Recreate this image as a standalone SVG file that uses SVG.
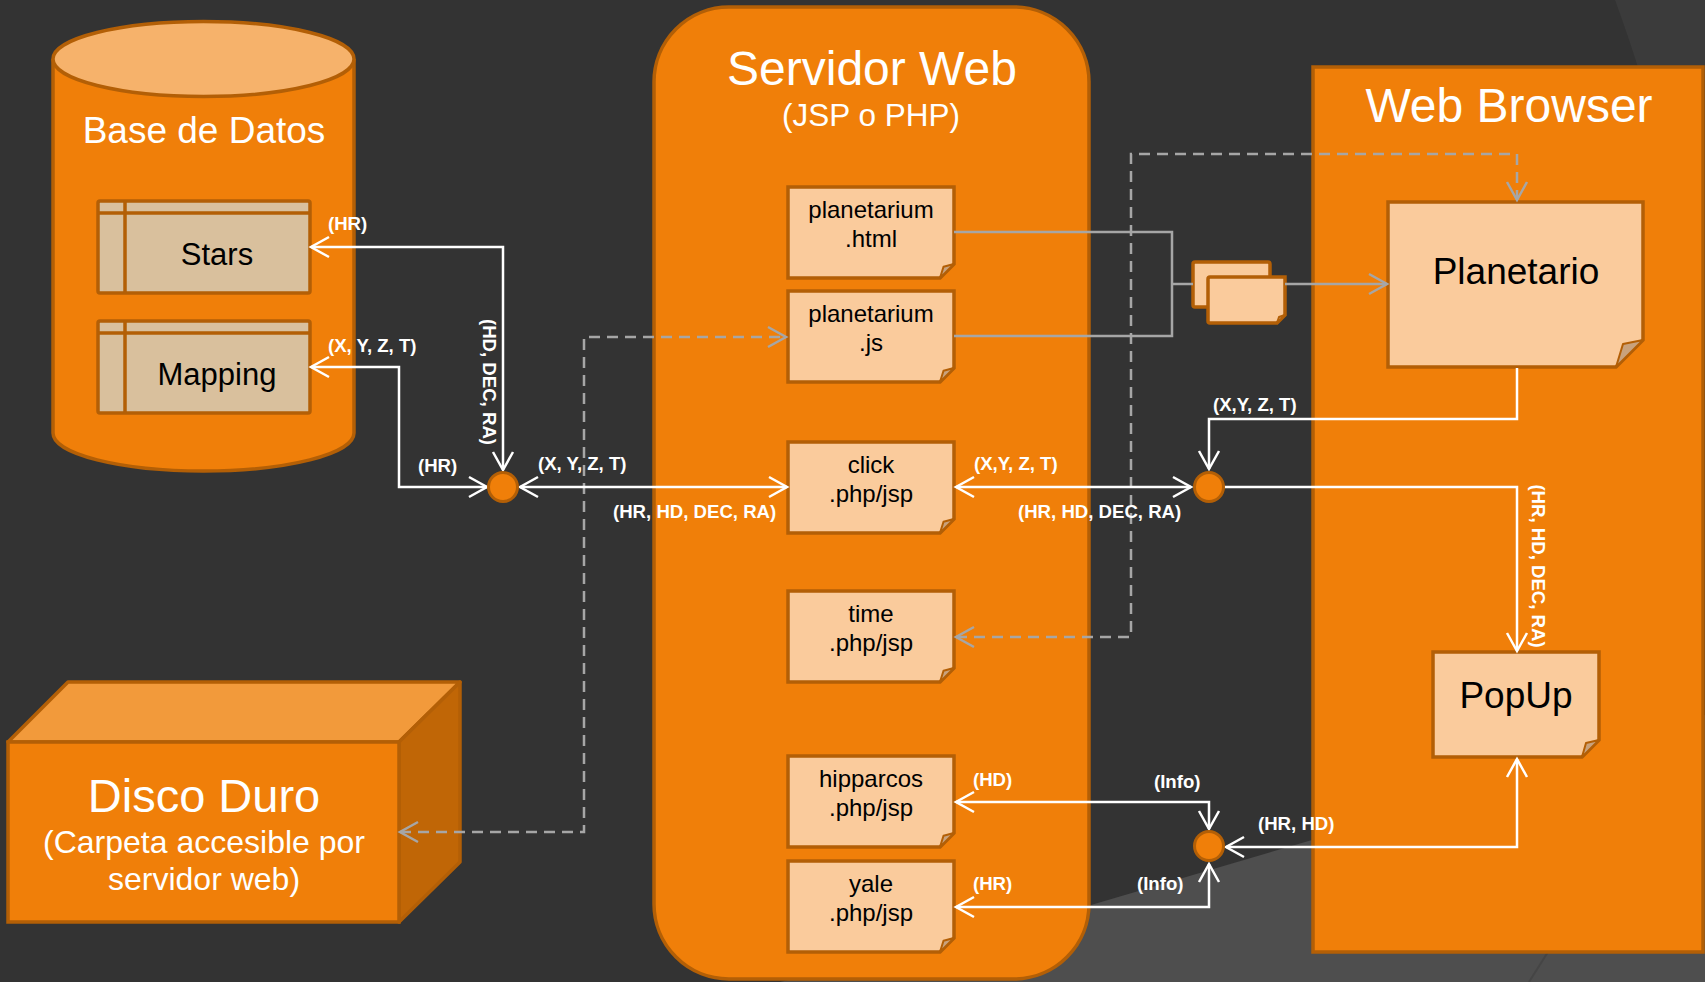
<svg xmlns="http://www.w3.org/2000/svg" width="1705" height="982" viewBox="0 0 1705 982">
  <defs>
    <style>
      .orange{fill:#F07F09;stroke:#B35F06;stroke-width:3.5}
      .note{fill:#FACB9C;stroke:#B35F06;stroke-width:3.5;stroke-linejoin:miter}
      .fold{fill:#C9A27C;stroke:#B35F06;stroke-width:2;stroke-linejoin:round}
      .table{fill:#D9C09D;stroke:#B35F06;stroke-width:3.5}
      .tline{fill:none;stroke:#B35F06;stroke-width:3.5}
      .title{font-family:"Liberation Sans",Arial,sans-serif;fill:#fff;text-anchor:middle}
      .ntext{font-family:"Liberation Sans",Arial,sans-serif;fill:#000;text-anchor:middle}
      .lbl{font-family:"Liberation Sans",Arial,sans-serif;font-weight:bold;font-size:18.6px;fill:#fff}
      .w{fill:none;stroke:#fff;stroke-width:2.5}
      .g{fill:none;stroke:#A6A6A6;stroke-width:2.5}
      .gd{fill:none;stroke:#A6A6A6;stroke-width:2.5;stroke-dasharray:11 7}
      .dot{fill:#F07F09;stroke:#B35F06;stroke-width:3}
    </style>
    <marker id="aw" markerUnits="userSpaceOnUse" viewBox="-22 -13 25 26" markerWidth="25" markerHeight="26" refX="0" refY="0" orient="auto-start-reverse">
      <path d="M-18,-10 L0,0 L-18,10" fill="none" stroke="#fff" stroke-width="2.5"/>
    </marker>
    <marker id="ag" markerUnits="userSpaceOnUse" viewBox="-22 -13 25 26" markerWidth="25" markerHeight="26" refX="0" refY="0" orient="auto-start-reverse">
      <path d="M-18,-10 L0,0 L-18,10" fill="none" stroke="#A6A6A6" stroke-width="2.5"/>
    </marker>
  </defs>

  <!-- background -->
  <rect x="0" y="0" width="1705" height="982" fill="#333333"/>
  <path d="M1615,0 Q1628,35 1642,80 L1705,80 L1705,0 Z" fill="#3B3B3B"/>
  <path d="M780,982 L1091,905 L1312,840 L1705,715 L1705,982 Z" fill="#4E4E4E"/>
  <path d="M1553,944 L1529,982" fill="none" stroke="#454545" stroke-width="2"/>

  <!-- Base de Datos -->
  <g id="base-de-datos">
    <path class="orange" d="M53,59 V433 A150.5,38 0 0 0 354,433 V59"/>
    <ellipse cx="203.5" cy="59" rx="150.5" ry="37.5" fill="#F6B26B" stroke="#B35F06" stroke-width="3.5"/>
    <text class="title" x="204" y="143" font-size="37">Base de Datos</text>
  </g>
  <g id="stars">
    <rect class="table" x="98" y="201" width="212" height="92" rx="2"/>
    <path class="tline" d="M98,213 H310 M125,201 V293"/>
    <text class="ntext" x="217" y="265" font-size="31">Stars</text>
  </g>
  <g id="mapping">
    <rect class="table" x="98" y="321" width="212" height="92" rx="2"/>
    <path class="tline" d="M98,333 H310 M125,321 V413"/>
    <text class="ntext" x="217" y="385" font-size="31">Mapping</text>
  </g>

  <!-- Disco Duro -->
  <g id="disco-duro">
    <path d="M8,742 L68,682 L460,682 L399,742 Z" fill="#F29A3B" stroke="#B35F06" stroke-width="3.5" stroke-linejoin="round"/>
    <path d="M399,742 L460,682 L460,862 L399,922 Z" fill="#C06606" stroke="#B35F06" stroke-width="3.5" stroke-linejoin="round"/>
    <rect class="orange" x="8" y="742" width="391" height="180"/>
    <text class="title" x="204" y="812" font-size="47">Disco Duro</text>
    <text class="title" x="204" y="853" font-size="32">(Carpeta accesible por</text>
    <text class="title" x="204" y="890" font-size="32">servidor web)</text>
  </g>

  <!-- Servidor Web -->
  <g id="servidor-web">
    <rect class="orange" x="654" y="7" width="435" height="972" rx="75" ry="75"/>
    <text class="title" x="872" y="85" font-size="48">Servidor Web</text>
    <text class="title" x="871" y="126" font-size="31.5">(JSP o PHP)</text>
  </g>
  <g id="planetarium-html">
    <path class="note" d="M788,187 H954 V264 L940,278 H788 Z"/>
    <path class="fold" d="M954,264 L940,278 L943.5,266.8 Z"/>
    <text class="ntext" x="871" y="218" font-size="24">planetarium</text>
    <text class="ntext" x="871" y="247" font-size="24">.html</text>
  </g>
  <g id="planetarium-js">
    <path class="note" d="M788,291 H954 V368 L940,382 H788 Z"/>
    <path class="fold" d="M954,368 L940,382 L943.5,370.8 Z"/>
    <text class="ntext" x="871" y="322" font-size="24">planetarium</text>
    <text class="ntext" x="871" y="351" font-size="24">.js</text>
  </g>
  <g id="click">
    <path class="note" d="M788,442 H954 V519 L940,533 H788 Z"/>
    <path class="fold" d="M954,519 L940,533 L943.5,521.8 Z"/>
    <text class="ntext" x="871" y="473" font-size="24">click</text>
    <text class="ntext" x="871" y="502" font-size="24">.php/jsp</text>
  </g>
  <g id="time">
    <path class="note" d="M788,591 H954 V668 L940,682 H788 Z"/>
    <path class="fold" d="M954,668 L940,682 L943.5,670.8 Z"/>
    <text class="ntext" x="871" y="622" font-size="24">time</text>
    <text class="ntext" x="871" y="651" font-size="24">.php/jsp</text>
  </g>
  <g id="hipparcos">
    <path class="note" d="M788,756 H954 V833 L940,847 H788 Z"/>
    <path class="fold" d="M954,833 L940,847 L943.5,835.8 Z"/>
    <text class="ntext" x="871" y="787" font-size="24">hipparcos</text>
    <text class="ntext" x="871" y="816" font-size="24">.php/jsp</text>
  </g>
  <g id="yale">
    <path class="note" d="M788,861 H954 V938 L940,952 H788 Z"/>
    <path class="fold" d="M954,938 L940,952 L943.5,940.8 Z"/>
    <text class="ntext" x="871" y="892" font-size="24">yale</text>
    <text class="ntext" x="871" y="921" font-size="24">.php/jsp</text>
  </g>

  <!-- Web Browser -->
  <g id="web-browser">
    <rect class="orange" x="1313" y="67" width="390" height="885"/>
    <text class="title" x="1509" y="122" font-size="48">Web Browser</text>
  </g>
  <g id="planetario">
    <path class="note" d="M1388,202 H1643 V340 L1616,367 H1388 Z"/>
    <path class="fold" d="M1643,340 L1616,367 L1623,344 Z"/>
    <text class="ntext" x="1516" y="284" font-size="37">Planetario</text>
  </g>
  <g id="popup">
    <path class="note" d="M1433,652 H1599 V740 L1582,757 H1433 Z"/>
    <path class="fold" d="M1599,740 L1582,757 L1586,743 Z"/>
    <text class="ntext" x="1516" y="708" font-size="37">PopUp</text>
  </g>
  <g id="page-stack">
    <rect class="note" x="1193" y="262" width="77" height="45" rx="2"/>
    <path class="note" d="M1210,277 H1285 V315 L1277,323 H1210 Q1208,323 1208,321 V279 Q1208,277 1210,277 Z"/>
    <path class="fold" d="M1285,315 L1277,323 L1279,317 Z"/>
  </g>

  <!-- connectors -->
  <g id="connectors">
    <path class="g" d="M954,232 H1172 V336 H954"/>
    <path class="g" d="M1172,284 H1193"/>
    <path class="g" d="M1285,284 H1387" marker-end="url(#ag)"/>
    <path class="gd" d="M956,637 H1131 V154 H1517 V200" marker-start="url(#ag)" marker-end="url(#ag)"/>
    <path class="gd" d="M400,832 H584 V337 H786" marker-start="url(#ag)" marker-end="url(#ag)"/>

    <path class="w" d="M311,247 H503 V470" marker-start="url(#aw)" marker-end="url(#aw)"/>
    <path class="w" d="M311,367 H399 V487 H487" marker-start="url(#aw)" marker-end="url(#aw)"/>
    <path class="w" d="M520,487 H787" marker-start="url(#aw)" marker-end="url(#aw)"/>
    <path class="w" d="M956,487 H1191" marker-start="url(#aw)" marker-end="url(#aw)"/>
    <path class="w" d="M1517,368 V419 H1209 V469" marker-end="url(#aw)"/>
    <path class="w" d="M1224,487 H1517 V651" marker-end="url(#aw)"/>
    <path class="w" d="M956,802 H1209 V829" marker-start="url(#aw)" marker-end="url(#aw)"/>
    <path class="w" d="M956,907 H1209 V864" marker-start="url(#aw)" marker-end="url(#aw)"/>
    <path class="w" d="M1517,759 V847 H1226" marker-start="url(#aw)" marker-end="url(#aw)"/>

    <circle class="dot" cx="503" cy="487" r="14.5"/>
    <circle class="dot" cx="1209" cy="487" r="14.5"/>
    <circle class="dot" cx="1209" cy="846" r="14.5"/>

    <text class="lbl" x="328" y="230">(HR)</text>
    <text class="lbl" x="328" y="352">(X, Y, Z, T)</text>
    <text class="lbl" x="418" y="472">(HR)</text>
    <text class="lbl" x="538" y="470">(X, Y, Z, T)</text>
    <text class="lbl" x="613" y="518">(HR, HD, DEC, RA)</text>
    <text class="lbl" x="974" y="470">(X,Y, Z, T)</text>
    <text class="lbl" x="1018" y="518">(HR, HD, DEC, RA)</text>
    <text class="lbl" x="1213" y="411">(X,Y, Z, T)</text>
    <text class="lbl" text-anchor="middle" transform="translate(483,382) rotate(90)">(HD, DEC, RA)</text>
    <text class="lbl" text-anchor="middle" transform="translate(1532,566) rotate(90)">(HR, HD, DEC, RA)</text>
    <text class="lbl" x="973" y="786">(HD)</text>
    <text class="lbl" x="1154" y="788">(Info)</text>
    <text class="lbl" x="1258" y="830">(HR, HD)</text>
    <text class="lbl" x="973" y="890">(HR)</text>
    <text class="lbl" x="1137" y="890">(Info)</text>
  </g>
</svg>
